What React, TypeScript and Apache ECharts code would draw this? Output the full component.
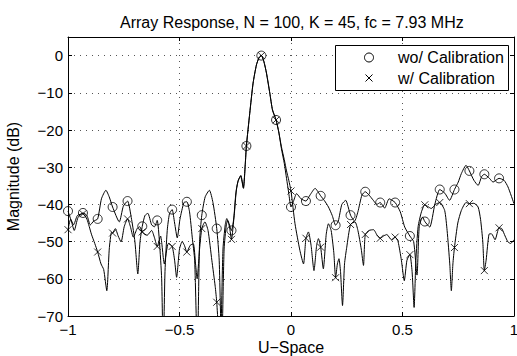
import React, { useEffect, useRef } from "react";
import * as echarts from "echarts";

const chartTitle = "Array Response, N = 100, K = 45, fc = 7.93 MHz";
const xAxisName = "U\u2212Space";
const yAxisName = "Magnitude (dB)";
const legendNames = ["wo/ Calibration", "w/ Calibration"];

const xMin = -1;
const xMax = 1;
const xStep = 0.5;
const yMin = -70;
const yMax = 5;
const yStep = 10;

// marker positions (every 15th sample)
const markerU = [
  -1, -0.933, -0.867, -0.8, -0.733, -0.667, -0.6, -0.533, -0.467, -0.4, -0.333, -0.267, -0.2, -0.133, -0.067,
  0, 0.067, 0.133, 0.2, 0.267, 0.333, 0.4, 0.467, 0.533, 0.6, 0.667, 0.733, 0.8, 0.867, 0.933,
];
const woMarkerDb = [
  -41.8, -42.3, -43.9, -40.7, -39.1, -45.9, -44.3, -41.4, -39.3, -42.9, -46.5, -47.0, -24.3, 0, -17.3,
  -40.7, -39.1, -37.7, -45.6, -42.9, -36.6, -39.5, -39.5, -48.5, -44.6, -36.0, -36.0, -31.0, -31.9, -33.0,
];
const wMarkerDb = [
  -46.8, -42.5, -52.8, -47.7, -43.9, -47.4, -51.3, -51.3, -52.8, -46.5, -66.3, -49.4, -24.3, 0, -17.3,
  -36.4, -49.1, -51.5, -59.7, -45.4, -48.1, -49.1, -48.8, -53.5, -40.1, -39.5, -51.6, -39.8, -57.8, -46.3,
];

// full response without calibration [u, dB]
const woLine: [number, number][] = [
  [-1.0, -41.8], [-0.985, -44.5], [-0.972, -47.0], [-0.955, -43.5], [-0.933, -42.3], [-0.915, -43.0],
  [-0.9, -45.5], [-0.885, -44.5], [-0.867, -43.9], [-0.85, -38.5], [-0.83, -36.2], [-0.815, -38.0],
  [-0.8, -40.7], [-0.77, -44.7], [-0.752, -40.5], [-0.733, -39.1], [-0.715, -44.0], [-0.7, -50.0],
  [-0.687, -58.7], [-0.677, -50.0], [-0.667, -45.9], [-0.655, -43.0], [-0.642, -42.4], [-0.625, -45.5],
  [-0.612, -46.0], [-0.6, -44.3], [-0.59, -50.0], [-0.58, -60.0], [-0.573, -80], [-0.565, -58.0],
  [-0.555, -47.0], [-0.545, -42.5], [-0.533, -41.4], [-0.522, -45.0], [-0.51, -49.0], [-0.498, -44.0],
  [-0.48, -39.5], [-0.467, -39.3], [-0.455, -42.0], [-0.443, -48.8], [-0.432, -55.0], [-0.42, -80],
  [-0.41, -50.0], [-0.4, -42.9], [-0.385, -38.0], [-0.366, -36.2], [-0.35, -39.5], [-0.333, -46.5],
  [-0.322, -55.0], [-0.311, -80], [-0.3, -52.0], [-0.29, -45.5], [-0.284, -44.3], [-0.267, -47.0],
  [-0.255, -43.0], [-0.245, -36.0], [-0.236, -33.5], [-0.225, -32.2], [-0.213, -35.7], [-0.205, -29.0],
  [-0.2, -24.3], [-0.185, -15.5], [-0.17, -7.4], [-0.155, -2.5], [-0.143, -0.5], [-0.133, 0],
  [-0.122, -1.5], [-0.11, -4.7], [-0.095, -10.1], [-0.083, -14.6], [-0.067, -17.3], [-0.055, -20.5],
  [-0.043, -25.0], [-0.03, -29.0], [-0.02, -33.0], [-0.01, -37.0], [0.0, -40.7], [0.012, -39.0],
  [0.025, -37.1], [0.045, -38.5], [0.067, -39.1], [0.085, -37.5], [0.108, -35.7], [0.133, -37.7],
  [0.15, -39.0], [0.168, -40.7], [0.185, -43.0], [0.2, -45.6], [0.212, -44.5], [0.228, -40.0],
  [0.245, -38.9], [0.267, -42.9], [0.285, -44.5], [0.3, -42.0], [0.318, -37.5], [0.333, -36.6],
  [0.35, -37.5], [0.369, -38.9], [0.385, -40.0], [0.4, -39.5], [0.42, -41.0], [0.44, -38.5],
  [0.467, -39.5], [0.49, -42.0], [0.51, -46.1], [0.533, -48.5], [0.55, -50.0], [0.565, -59.0],
  [0.575, -46.0], [0.59, -43.4], [0.6, -44.6], [0.622, -46.1], [0.645, -40.0], [0.667, -36.0],
  [0.69, -37.0], [0.711, -38.9], [0.733, -36.0], [0.75, -34.0], [0.764, -31.7], [0.785, -29.5],
  [0.8, -31.0], [0.82, -33.5], [0.839, -34.9], [0.855, -32.5], [0.867, -31.9], [0.89, -33.0],
  [0.906, -34.0], [0.933, -33.0], [0.955, -33.5], [0.973, -35.3], [1.0, -39.8],
];

// full response with calibration [u, dB]
const wLine: [number, number][] = [
  [-1.0, -46.8], [-0.988, -44.0], [-0.975, -45.5], [-0.958, -43.0], [-0.933, -42.5], [-0.915, -44.0],
  [-0.895, -48.0], [-0.88, -50.5], [-0.867, -52.8], [-0.852, -56.0], [-0.84, -57.5], [-0.826, -63.2],
  [-0.815, -52.0], [-0.805, -47.5], [-0.8, -47.7], [-0.788, -46.5], [-0.775, -48.5], [-0.762, -50.1],
  [-0.748, -46.0], [-0.733, -43.9], [-0.72, -46.0], [-0.707, -48.8], [-0.69, -46.5], [-0.678, -46.0],
  [-0.667, -47.4], [-0.645, -48.3], [-0.625, -47.0], [-0.612, -49.0], [-0.6, -51.3], [-0.585, -48.5],
  [-0.568, -56.0], [-0.55, -50.5], [-0.533, -51.3], [-0.522, -55.0], [-0.513, -59.6], [-0.5, -52.0],
  [-0.488, -50.0], [-0.478, -51.0], [-0.467, -52.8], [-0.452, -51.0], [-0.438, -50.6], [-0.428, -56.0],
  [-0.421, -60.0], [-0.41, -52.0], [-0.4, -46.5], [-0.386, -44.7], [-0.372, -47.0], [-0.355, -55.0],
  [-0.34, -62.0], [-0.333, -66.3], [-0.318, -80], [-0.305, -52.0], [-0.295, -45.5], [-0.288, -43.8],
  [-0.276, -46.0], [-0.267, -49.4], [-0.258, -45.0], [-0.248, -37.5], [-0.238, -33.8], [-0.226, -32.4],
  [-0.214, -35.5], [-0.205, -29.2], [-0.2, -24.3], [-0.185, -15.5], [-0.17, -7.4], [-0.155, -2.5],
  [-0.143, -0.5], [-0.133, 0], [-0.122, -1.5], [-0.11, -4.7], [-0.095, -10.1], [-0.083, -14.6],
  [-0.067, -17.3], [-0.055, -20.5], [-0.043, -24.5], [-0.03, -28.0], [-0.02, -31.0], [-0.01, -33.5],
  [0.0, -36.4], [0.018, -45.2], [0.04, -52.4], [0.056, -56.0], [0.067, -49.1], [0.078, -47.4],
  [0.09, -51.0], [0.103, -57.8], [0.115, -51.0], [0.123, -49.2], [0.133, -51.5], [0.145, -57.3],
  [0.158, -48.0], [0.168, -45.2], [0.18, -47.0], [0.192, -53.0], [0.2, -59.7], [0.208, -56.0],
  [0.215, -54.6], [0.222, -58.0], [0.231, -67.2], [0.24, -56.0], [0.25, -51.5], [0.267, -45.4],
  [0.287, -44.7], [0.3, -47.0], [0.315, -52.0], [0.325, -56.4], [0.333, -48.1], [0.35, -47.0],
  [0.37, -46.8], [0.388, -48.5], [0.4, -49.1], [0.415, -48.5], [0.43, -48.1], [0.45, -49.5],
  [0.467, -48.8], [0.48, -50.0], [0.495, -55.0], [0.508, -60.5], [0.52, -55.0], [0.533, -53.5],
  [0.543, -58.0], [0.552, -67.7], [0.56, -55.0], [0.57, -46.0], [0.585, -42.0], [0.6, -40.1],
  [0.612, -40.5], [0.629, -41.1], [0.648, -40.0], [0.667, -39.5], [0.689, -41.6], [0.7, -47.0],
  [0.712, -56.0], [0.719, -63.2], [0.726, -56.0], [0.733, -51.6], [0.748, -45.0], [0.764, -41.6],
  [0.785, -39.5], [0.8, -39.8], [0.82, -39.7], [0.839, -40.7], [0.85, -44.0], [0.86, -50.0],
  [0.867, -57.8], [0.875, -55.0], [0.888, -48.0], [0.899, -47.9], [0.915, -49.5], [0.933, -46.3],
  [0.945, -46.5], [0.96, -48.5], [0.973, -50.1], [0.985, -50.5], [1.0, -49.5],
];

const FONT = "'Liberation Sans', Arial, Helvetica, sans-serif";
const minus = (v: number) => String(v).replace("-", "\u2212");

export default function App() {
  const ref = useRef<HTMLDivElement>(null);

  useEffect(() => {
    document.body.style.margin = "0";
    if (!ref.current) return;
    const chart = echarts.init(ref.current, null, { renderer: "svg" });

    const gridLeft = 68;
    const gridTop = 37;
    const gridW = 446;
    const gridH = 279;

    const splitStyle = { show: true, lineStyle: { color: "#555", width: 1, type: [1, 5] as any } };
    const axisLineStyle = { show: true, onZero: false, lineStyle: { color: "#000", width: 1 } };
    const tickStyle = { show: true, inside: true, length: 4, lineStyle: { color: "#000" } };

    const crossPath = "path://M0,0L10,10M10,0L0,10";

    // legend box geometry (absolute pixels)
    const lgX = 335;
    const lgY = 45;

    chart.setOption({
      animation: false,
      backgroundColor: "#fff",
      textStyle: { fontFamily: FONT },
      title: {
        text: chartTitle,
        left: 120,
        top: 14,
        padding: 0,
        textStyle: { fontFamily: FONT, fontSize: 16, fontWeight: "normal", color: "#000" },
      },
      grid: {
        left: gridLeft,
        top: gridTop,
        width: gridW,
        height: gridH,
        containLabel: false,
        outerBoundsMode: "none",
      },
      xAxis: [
        {
          type: "value",
          min: xMin,
          max: xMax,
          interval: xStep,
          position: "bottom",
          name: xAxisName,
          nameLocation: "middle",
          nameGap: 24,
          nameMoveOverlap: false,
          nameTextStyle: { fontFamily: FONT, fontSize: 16, lineHeight: 15, color: "#000" },
          axisLine: axisLineStyle,
          axisTick: tickStyle,
          splitLine: splitStyle,
          axisLabel: {
            color: "#000",
            fontSize: 15,
            lineHeight: 14,
            fontFamily: FONT,
            margin: 6,
            formatter: minus,
          },
        },
        {
          type: "value",
          min: xMin,
          max: xMax,
          interval: xStep,
          position: "top",
          axisLine: axisLineStyle,
          axisTick: tickStyle,
          splitLine: { show: false },
          axisLabel: { show: false },
        },
      ],
      yAxis: [
        {
          type: "value",
          min: yMin,
          max: yMax,
          interval: yStep,
          position: "left",
          name: yAxisName,
          nameLocation: "middle",
          nameGap: 47,
          nameMoveOverlap: false,
          nameTextStyle: { fontFamily: FONT, fontSize: 16, color: "#000" },
          axisLine: axisLineStyle,
          axisTick: tickStyle,
          splitLine: splitStyle,
          axisLabel: {
            color: "#000",
            fontSize: 15,
            fontFamily: FONT,
            margin: 5,
            showMaxLabel: false,
            formatter: (v: number) => (v > 0 ? "" : minus(v)),
          },
        },
        {
          type: "value",
          min: yMin,
          max: yMax,
          interval: yStep,
          position: "right",
          axisLine: axisLineStyle,
          axisTick: tickStyle,
          splitLine: { show: false },
          axisLabel: { show: false },
        },
      ],
      series: [
        {
          type: "line",
          name: legendNames[0] + " line",
          data: woLine,
          showSymbol: false,
          smooth: 0.2,
          lineStyle: { color: "#000", width: 1 },
          clip: true,
          z: 3,
        },
        {
          type: "line",
          name: legendNames[1] + " line",
          data: wLine,
          showSymbol: false,
          smooth: 0.2,
          lineStyle: { color: "#000", width: 1 },
          clip: true,
          z: 3,
        },
        {
          type: "scatter",
          name: legendNames[0],
          data: markerU.map((u, i) => [u, woMarkerDb[i]]),
          symbol: "circle",
          symbolSize: 9,
          itemStyle: { color: "rgba(0,0,0,0)", borderColor: "#000", borderWidth: 1 },
          z: 4,
        },
        {
          type: "scatter",
          name: legendNames[1],
          data: markerU.map((u, i) => [u, wMarkerDb[i]]),
          symbol: crossPath,
          symbolSize: 7,
          itemStyle: { color: "rgba(0,0,0,0)", borderColor: "#000", borderWidth: 1 },
          z: 4,
        },
      ],
      graphic: [
        {
          type: "rect",
          z: 100,
          shape: { x: lgX + 0.5, y: lgY + 0.5, width: 173, height: 45 },
          style: { fill: "#fff", stroke: "#000", lineWidth: 1 },
        },
        {
          type: "circle",
          z: 101,
          shape: { cx: lgX + 34, cy: lgY + 12.5, r: 4.5 },
          style: { fill: "none", stroke: "#000", lineWidth: 1 },
        },
        {
          type: "text",
          z: 101,
          x: lgX + 63,
          y: lgY + 12.5,
          style: {
            text: legendNames[0],
            fill: "#000",
            font: `16px ${FONT}`,
            verticalAlign: "middle",
            align: "left",
          },
        },
        {
          type: "line",
          z: 101,
          shape: { x1: lgX + 30.5, y1: lgY + 29.5, x2: lgX + 37.5, y2: lgY + 36.5 },
          style: { stroke: "#000", lineWidth: 1 },
        },
        {
          type: "line",
          z: 101,
          shape: { x1: lgX + 37.5, y1: lgY + 29.5, x2: lgX + 30.5, y2: lgY + 36.5 },
          style: { stroke: "#000", lineWidth: 1 },
        },
        {
          type: "text",
          z: 101,
          x: lgX + 63,
          y: lgY + 33,
          style: {
            text: legendNames[1],
            fill: "#000",
            font: `16px ${FONT}`,
            verticalAlign: "middle",
            align: "left",
          },
        },
      ],
    });

    return () => chart.dispose();
  }, []);

  return (
    <div
      ref={ref}
      style={{ width: 517, height: 356, position: "absolute", left: 0, top: 0, background: "#fff" }}
    />
  );
}
